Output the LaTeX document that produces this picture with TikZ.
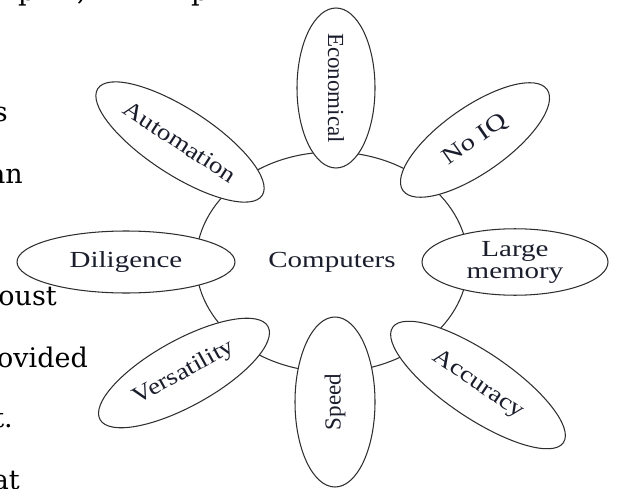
\documentclass[tikz,border=0pt]{standalone}
\usepackage{fontspec}
\usepackage{graphicx}
\setmainfont{Liberation Serif}
\newfontfamily\pagefont{DejaVu Serif}
\usetikzlibrary{shapes.geometric}
\definecolor{linegray}{HTML}{2E2E2E}
\definecolor{labelink}{HTML}{1A1D2B}
% widen a label horizontally
\newcommand\stretchtxt[2][1.26]{\scalebox{#1}[1]{#2}}
\begin{document}
\begin{tikzpicture}[x=1pt,y=-1pt,
  outline/.style={draw=linegray, line width=1.05pt},
  petal/.style={ellipse, outline, fill=white, inner sep=0pt, text=labelink,
    font=\fontsize{23}{25}\selectfont},
  hub/.style={ellipse, outline, inner sep=0pt, text=labelink,
    font=\fontsize{23}{25}\selectfont},
  pagetext/.style={inner sep=0pt, text=black, font=\pagefont\fontsize{27}{30}\selectfont}]
\useasboundingbox (0,0) rectangle (644,489);

% running text of the page behind the figure
\begin{scope}
  \clip (0,0) rectangle (644,489);
  \node[pagetext, anchor=base west] (pa) at (18,1) {p};
  \node[pagetext, anchor=base west] (pb) at (77,1) {,};
  \node[pagetext, anchor=base west] (pc) at (191,1) {p};
  \node[pagetext, anchor=base east] (l1) at (8,122) {s};
  \node[pagetext, anchor=base east] (l2) at (23,183) {an};
  \node[pagetext, anchor=base east] (l3) at (57,305) {oust};
  \node[pagetext, anchor=base east] (l4) at (88,367) {ovided};
  \node[pagetext, anchor=base east] (l5) at (13,427) {t.};
  \node[pagetext, anchor=base east] (l6) at (20,489) {at};
\end{scope}

% central hub
\node[hub, minimum width=272, minimum height=220] (hub) at (332,262) {\raisebox{-3pt}{\stretchtxt{Computers}}};

% characteristics around the hub
\node[petal, rotate=-90, minimum width=160, minimum height=78] (econ) at (336,88) {Economical};
\node[petal, rotate=35, minimum width=176, minimum height=66] (noiq) at (475,140) {\stretchtxt[1.25]{No IQ}};
\node[petal, rotate=-33, minimum width=196, minimum height=66] (auto) at (180,142) {\stretchtxt[1.18]{Automation}};
\node[petal, minimum width=218, minimum height=62] (dili) at (126,262) {\raisebox{-2pt}{\stretchtxt{Diligence}}};
\node[petal, minimum width=186, minimum height=60] (mem) at (515,262)
  {\raisebox{-3pt}{\begin{tabular}{@{}c@{}}\stretchtxt{Large}\\[-3pt]\stretchtxt{memory}\end{tabular}}};
\node[petal, rotate=29, minimum width=192, minimum height=66] (vers) at (184,373) {\stretchtxt[1.18]{Versatility}};
\node[petal, rotate=90, minimum width=170, minimum height=80] (speed) at (335,402) {Speed};
\node[petal, rotate=-34, minimum width=206, minimum height=66] (accu) at (478,385) {\stretchtxt[1.19]{Accuracy}};
\end{tikzpicture}
\end{document}
